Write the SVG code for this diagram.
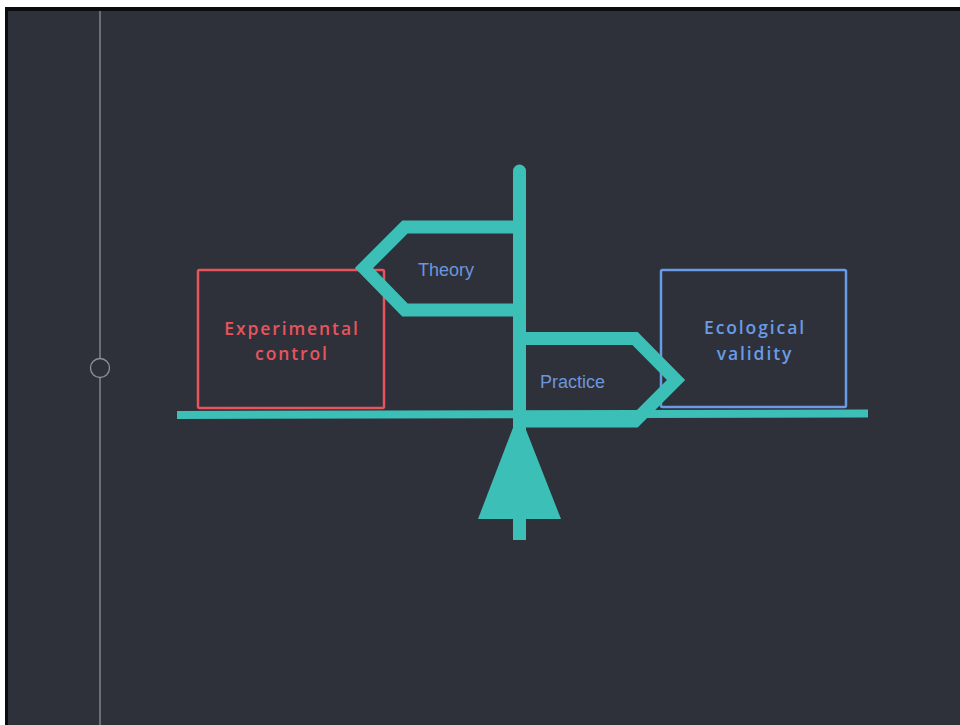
<svg xmlns="http://www.w3.org/2000/svg" width="960" height="725" viewBox="0 0 960 725">
  <style>
    .frame { fill: #2e3139; }
    .rail { stroke: #8d9099; stroke-width: 1.3; fill: none; }
    .wood { stroke: #3bbfb6; fill: none; }
    .sign { stroke: #3bbfb6; stroke-width: 13; fill: none; stroke-linejoin: miter; }
    .box-red { fill: none; stroke: #e8545e; stroke-width: 2.5; }
    .box-blue { fill: none; stroke: #6a9be6; stroke-width: 2.5; }
    .big { font-family: "Open Sans", "Noto Sans", sans-serif; font-weight: 600; font-size: 17.5px; letter-spacing: 1.9px; text-anchor: middle; }
    .small { font-family: "Liberation Sans", Arial, sans-serif; font-size: 18px; fill: #6c96dc; }
  </style>

  <!-- page and canvas -->
  <rect x="0" y="0" width="960" height="725" fill="#ffffff"/>
  <rect x="5" y="7" width="955" height="718" fill="#0b0c0e"/>
  <rect class="frame" x="8" y="11" width="952" height="714"/>

  <!-- timeline rail -->
  <g id="timeline">
    <line class="rail" x1="100" y1="11" x2="100" y2="358"/>
    <circle class="rail" cx="100" cy="368" r="9.5"/>
    <line class="rail" x1="100" y1="378" x2="100" y2="725"/>
  </g>

  <!-- boxes resting on the beam -->
  <g id="experimental-control">
    <rect class="box-red" x="198" y="270" width="186" height="138" rx="1.5"/>
    <text class="big" x="292" y="335" fill="#e8545e">Experimental</text>
    <text class="big" x="292" y="360" fill="#e8545e">control</text>
  </g>
  <g id="ecological-validity">
    <rect class="box-blue" x="661" y="270" width="185" height="137" rx="1.5"/>
    <text class="big" x="755" y="334" fill="#6a9be6">Ecological</text>
    <text class="big" x="755" y="360" fill="#6a9be6">validity</text>
  </g>

  <!-- balance: beam, post and fulcrum -->
  <g id="connectors">
    <line class="wood" x1="177" y1="415" x2="868" y2="413.5" stroke-width="8"/>
    <polygon points="519,412 561,519 478,519" fill="#3bbfb6"/>
    <line class="wood" x1="519.5" y1="171" x2="519.5" y2="540" stroke-width="13"/>
    <circle cx="519.5" cy="171" r="6.5" fill="#3bbfb6"/>
  </g>

  <!-- signboards -->
  <g id="theory">
    <polyline class="sign" points="519,227 405,227 364,268 405,310 519,310"/>
    <text class="small" x="418" y="276">Theory</text>
  </g>
  <g id="practice">
    <polyline class="sign" points="519,338.5 635,338.5 676,380 635,421 519,421"/>
    <text class="small" x="540" y="388">Practice</text>
  </g>
</svg>
